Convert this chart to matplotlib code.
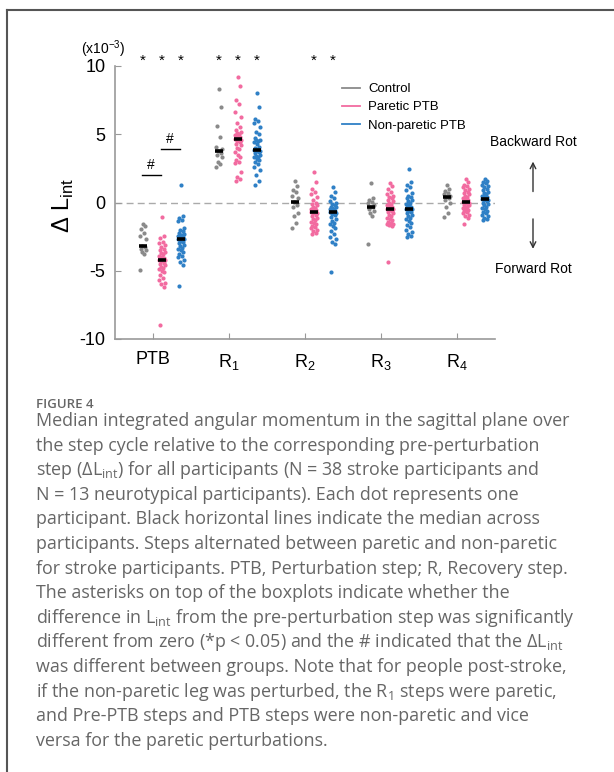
import matplotlib
matplotlib.use("Agg")
import matplotlib.pyplot as plt
import numpy as np
from matplotlib.lines import Line2D

# Delta L_int values (x10^-3)
steps = ["PTB", "R$_{\\mathregular{1}}$", "R$_{\\mathregular{2}}$", "R$_{\\mathregular{3}}$", "R$_{\\mathregular{4}}$"]
groups = ["Control", "Paretic PTB", "Non-paretic PTB"]

ptb_control = [-1.6, -1.75, -1.95, -2.2, -2.45, -2.7, -3.2, -3.25, -3.4, -3.5, -3.65, -3.75, -4.95]
ptb_paretic = [-1.05, -2.45, -2.6, -2.9, -3.0, -3.1, -3.25, -3.4, -3.5, -3.6, -3.7, -3.8, -3.9, -4.0, -4.05, -4.1, -4.15,
               -4.2, -4.2, -4.3, -4.4, -4.5, -4.6, -4.7, -4.8, -4.9, -5.0, -5.1, -5.3, -5.5, -5.7, -5.9, -6.0, -6.2, -8.95]
ptb_nonparetic = [1.25, -1.0, -1.1, -1.3, -1.35, -1.9, -2.0, -2.1, -2.2, -2.3, -2.35, -2.4, -2.45, -2.5, -2.55, -2.6, -2.62,
                  -2.65, -2.7, -2.8, -2.9, -3.0, -3.1, -3.2, -3.3, -3.4, -3.5, -3.6, -3.8, -3.9, -4.0, -4.2, -4.35, -4.6, -6.15]

r1_control = [8.3, 7.0, 5.6, 4.8, 4.05, 3.9, 3.75, 3.6, 3.5, 3.3, 3.0, 2.8, 2.6]
r1_paretic = [9.2, 8.5, 7.5, 7.2, 6.6, 6.3, 5.8, 5.5, 5.3, 5.2, 5.1, 5.0, 4.95, 4.9, 4.8, 4.75, 4.7,
              4.65, 4.6, 4.5, 4.4, 4.3, 4.2, 4.0, 3.9, 3.7, 3.5, 3.3, 3.15, 3.0, 2.9, 2.2, 1.9, 1.7, 1.6]
r1_nonparetic = [8.0, 7.0, 6.1, 6.0, 5.8, 5.5, 5.2, 5.0, 4.7, 4.6, 4.55, 4.5, 4.4, 4.3, 4.1, 4.0, 3.95,
                 3.87, 3.8, 3.75, 3.7, 3.6, 3.5, 3.4, 3.35, 3.3, 3.2, 3.1, 3.0, 2.8, 2.6, 2.4, 2.0, 1.6, 1.25]

r2_control = [1.6, 1.2, 0.9, 0.8, 0.5, 0.3, 0.05, -0.2, -0.3, -0.8, -1.0, -1.5, -1.85]
r2_paretic = [2.25, 1.5, 1.0, 0.8, 0.6, 0.4, 0.2, 0.0, -0.1, -0.2, -0.3, -0.4, -0.45, -0.5, -0.55, -0.6, -0.65,
              -0.7, -0.75, -0.8, -0.9, -1.0, -1.1, -1.2, -1.3, -1.4, -1.5, -1.6, -1.7, -1.8, -1.9, -2.0, -2.1, -2.2, -2.3]
r2_nonparetic = [1.1, 0.8, 0.5, 0.3, 0.1, 0.0, -0.1, -0.2, -0.3, -0.35, -0.4, -0.45, -0.5, -0.55, -0.6, -0.65, -0.68,
                 -0.7, -0.75, -0.85, -0.95, -1.05, -1.2, -1.35, -1.5, -1.6, -1.75, -1.9, -2.1, -2.3, -2.5, -2.7, -2.9, -3.05, -5.1]

r3_control = [1.4, 0.3, 0.15, 0.05, -0.05, -0.15, -0.3, -0.35, -0.5, -0.65, -0.8, -1.0, -3.05]
r3_paretic = [1.45, 1.2, 1.0, 0.8, 0.6, 0.5, 0.4, 0.3, 0.2, 0.1, 0.0, -0.1, -0.2, -0.25, -0.3, -0.35, -0.4,
              -0.44, -0.5, -0.55, -0.6, -0.7, -0.8, -0.9, -1.0, -1.1, -1.2, -1.3, -1.4, -1.5, -1.55, -1.6, -1.65, -1.7, -4.35]
r3_nonparetic = [2.45, 1.5, 1.3, 1.1, 0.9, 0.7, 0.5, 0.4, 0.3, 0.2, 0.1, 0.0, -0.1, -0.2, -0.3, -0.35, -0.4,
                 -0.44, -0.5, -0.6, -0.7, -0.8, -0.9, -1.0, -1.1, -1.2, -1.35, -1.5, -1.65, -1.8, -2.0, -2.15, -2.3, -2.45, -2.55]

r4_control = [1.3, 1.0, 0.85, 0.7, 0.6, 0.5, 0.4, 0.3, 0.2, 0.0, -0.3, -0.75, -1.05]
r4_paretic = [1.7, 1.5, 1.3, 1.2, 1.1, 1.0, 0.9, 0.8, 0.7, 0.6, 0.5, 0.4, 0.3, 0.25, 0.2, 0.15, 0.1,
              0.05, 0.0, -0.05, -0.1, -0.15, -0.2, -0.3, -0.35, -0.4, -0.5, -0.55, -0.6, -0.7, -0.8, -0.9, -1.0, -1.1, -1.6]
r4_nonparetic = [1.75, 1.6, 1.5, 1.4, 1.3, 1.2, 1.1, 1.0, 0.9, 0.8, 0.7, 0.6, 0.5, 0.45, 0.4, 0.35, 0.3,
                 0.24, 0.2, 0.15, 0.1, 0.0, -0.1, -0.2, -0.3, -0.4, -0.5, -0.6, -0.7, -0.8, -0.9, -1.0, -1.1, -1.2, -1.3]

data = [
    [ptb_control, ptb_paretic, ptb_nonparetic],
    [r1_control, r1_paretic, r1_nonparetic],
    [r2_control, r2_paretic, r2_nonparetic],
    [r3_control, r3_paretic, r3_nonparetic],
    [r4_control, r4_paretic, r4_nonparetic],
]

# (step index, group index) with significant difference from zero
sig_marks = [(0, 0), (0, 1), (0, 2), (1, 0), (1, 1), (1, 2), (2, 1), (2, 2)]
# between-group differences at PTB: (group a, group b, bar height)
hash_bars = [(0, 1, 2.0), (1, 2, 3.9)]

caption_lines = [
    "Median integrated angular momentum in the sagittal plane over",
    "the step cycle relative to the corresponding pre-perturbation",
    "step (Δ$\\mathregular{L_{int}}$) for all participants (N = 38 stroke participants and",
    "N = 13 neurotypical participants). Each dot represents one",
    "participant. Black horizontal lines indicate the median across",
    "participants. Steps alternated between paretic and non-paretic",
    "for stroke participants. PTB, Perturbation step; R, Recovery step.",
    "The asterisks on top of the boxplots indicate whether the",
    "difference in $\\mathregular{L_{int}}$ from the pre-perturbation step was significantly",
    "different from zero (*p < 0.05) and the # indicated that the Δ$\\mathregular{L_{int}}$",
    "was different between groups. Note that for people post-stroke,",
    "if the non-paretic leg was perturbed, the $\\mathregular{R_1}$ steps were paretic,",
    "and Pre-PTB steps and PTB steps were non-paretic and vice",
    "versa for the paretic perturbations.",
]

colors = ["#8a8a8a", "#f26ba0", "#2f80c6"]
offsets = [-0.13, 0.12, 0.37]
jitter = [0.0, 0.03, -0.025, 0.012, -0.038, 0.035, -0.01, 0.022, -0.03, 0.042, -0.015, 0.008, -0.042]

W, H = 614, 772
plt.rcParams["font.family"] = ["Liberation Sans", "DejaVu Sans"]
plt.rcParams["axes.unicode_minus"] = False

fig = plt.figure(figsize=(W / 100, H / 100), dpi=100)
ax = fig.add_axes([115 / W, 1 - 339 / H, (495 - 115) / W, (339 - 66) / H])

for si, step in enumerate(data):
    for gi, vals in enumerate(step):
        x0 = si + 1 + offsets[gi]
        xs = [x0 + jitter[k % len(jitter)] for k in range(len(vals))]
        ax.scatter(xs, vals, s=9, color=colors[gi], linewidths=0, zorder=3)
        med = np.median(vals)
        ax.plot([x0 - 0.055, x0 + 0.055], [med, med], color="black", lw=2.6, zorder=4,
                solid_capstyle="butt")

ax.axhline(0, color="#aaaaaa", lw=1, ls=(0, (5, 3)), zorder=1)

for si, gi in sig_marks:
    ax.text(si + 1 + offsets[gi], 10.35, "*", ha="center", va="center", fontsize=11, clip_on=False)

for ga, gb, yv in hash_bars:
    xa, xb = 1 + offsets[ga] - 0.02, 1 + offsets[gb] - 0.02
    ax.plot([xa, xb], [yv, yv], color="black", lw=1)
    ax.text((xa + xb) / 2, yv + 0.25, "#", ha="center", va="bottom", fontsize=10)

ax.text(0.35, 11.2, "(x10$^{\\mathregular{-3}}$)", ha="center", va="center", fontsize=10, clip_on=False)

ax.set_xlim(0.5, 5.5)
ax.set_ylim(-10, 10)
ax.set_xticks(range(1, 6))
ax.set_xticklabels(steps)
ax.set_yticks([-10, -5, 0, 5, 10])
ax.tick_params(direction="in", length=4, color="#999999", labelsize=13)
ax.tick_params(axis="x", pad=9)
ax.tick_params(axis="y", pad=7)
for side in ["top", "right"]:
    ax.spines[side].set_visible(False)
for side in ["left", "bottom"]:
    ax.spines[side].set_color("#999999")
    ax.spines[side].set_linewidth(1.2)

handles = [Line2D([], [], color=c, lw=1.3) for c in colors]
ax.legend(handles, groups, loc="upper left", bbox_to_anchor=(342 / W, 1 - 83 / H),
          bbox_transform=fig.transFigure, frameon=False, fontsize=9.5, handlelength=1.4,
          handletextpad=0.6, labelspacing=0.45, borderpad=0, borderaxespad=0)

# rotation direction annotations
ax.annotate("", xy=(6.0, 3.2), xytext=(6.0, 0.6), annotation_clip=False,
            arrowprops=dict(arrowstyle="->", color="#333333", lw=1))
ax.annotate("", xy=(6.0, -3.6), xytext=(6.0, -1.0), annotation_clip=False,
            arrowprops=dict(arrowstyle="->", color="#333333", lw=1))
ax.text(6.0, 4.4, "Backward Rot", ha="center", va="center", fontsize=10, clip_on=False)
ax.text(6.0, -4.85, "Forward Rot", ha="center", va="center", fontsize=10, clip_on=False)

fig.text(63 / W, 1 - 205 / H, "Δ L$_{\\mathregular{int}}$", rotation=90, ha="center", va="center", fontsize=17)

# caption
cap_font = ["Open Sans", "DejaVu Sans"]
fig.text(36 / W, 1 - 404 / H, "FIGURE 4", ha="left", va="center", fontsize=9.5,
         fontweight="semibold", color="#666666", family=cap_font)
for i, line in enumerate(caption_lines):
    fig.text(36 / W, 1 - (421 + i * 24.6) / H, line, ha="left", va="center", fontsize=12.9,
             color="#666666", family=cap_font)

# frame
fig.add_artist(Line2D([7 / W, 1], [1 - 10 / H, 1 - 10 / H], color="#555555", lw=1.5))
fig.add_artist(Line2D([7 / W, 7 / W], [1 - 10 / H, 0], color="#555555", lw=1.5))

fig.savefig("out.png", dpi=100)
